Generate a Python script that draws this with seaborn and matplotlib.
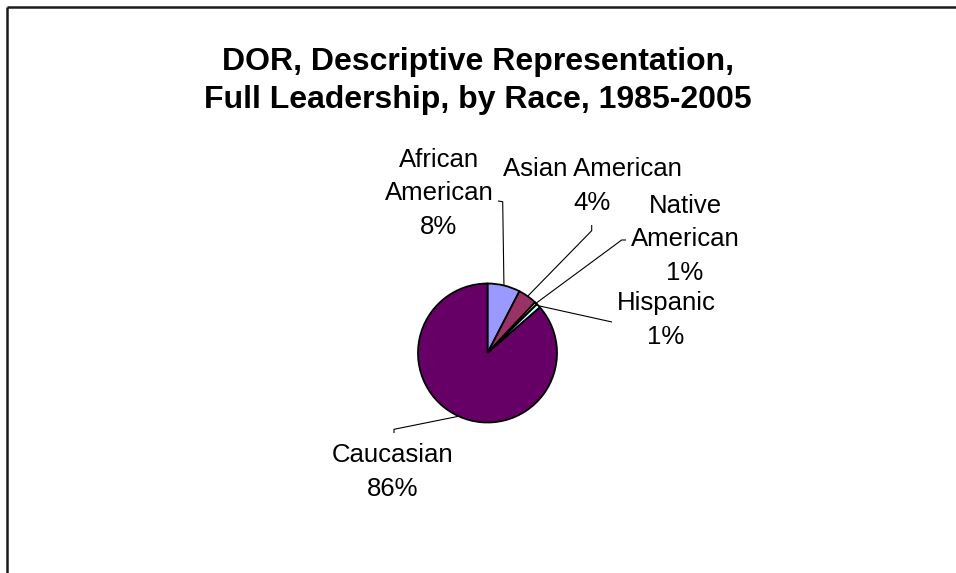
import matplotlib
matplotlib.use("Agg")
import matplotlib.pyplot as plt
import numpy as np
import seaborn as sns

# Share of full leadership by race, 1985-2005 (percent)
categories = ["African\nAmerican", "Asian American", "Native\nAmerican", "Hispanic", "Caucasian"]
shares = [7.6, 4.4, 0.6, 1.0, 86.4]
colors = ["#9999FF", "#993366", "#FFFFCC", "#CCFFFF", "#660066"]

title = "DOR, Descriptive Representation,\nFull Leadership, by Race, 1985-2005"

sns.set_theme(style="white")
plt.rcParams["font.family"] = ["Liberation Sans", "DejaVu Sans"]

W, H = 956, 573
fig = plt.figure(figsize=(W / 100, H / 100), dpi=100)
ax = fig.add_axes([0, 0, 1, 1])


def px(x, y):
    """Pixel position (y measured from the top) to data coordinates."""
    return x, H - y


cx, cy = px(487.5, 353)
radius = 69.5

wedges, _ = ax.pie(
    shares,
    colors=colors,
    startangle=90,
    counterclock=False,
    center=(cx, cy),
    radius=radius,
    wedgeprops=dict(edgecolor="black", linewidth=1.3),
)

ax.set_xlim(0, W)
ax.set_ylim(0, H)
ax.set_aspect("auto")
ax.axis("off")

# Leader-line bends and the centre of each label's first line, in pixels from the top-left
leader_paths = [
    [(502.7, 201.7), (498, 201)],
    [(591.7, 230.7), (591.7, 225)],
    [(621.7, 240), (626, 240)],
    [(612, 322)],
    [(394, 429.3), (394, 433)],
]
label_pos = [(439, 160), (592, 169), (685, 206), (666, 303), (393, 455)]
line_step = 33.5

for w, name, val, path, pos in zip(wedges, categories, shares, leader_paths, label_pos):
    mid = np.deg2rad((w.theta1 + w.theta2) / 2)
    start = (cx + radius * np.cos(mid), cy + radius * np.sin(mid))
    pts = [start] + [px(*p) for p in path]
    xs, ys = zip(*pts)
    ax.plot(xs, ys, color="black", lw=0.8, solid_capstyle="butt", zorder=3)
    lines = name.split("\n") + [f"{val:.0f}%"]
    for i, line in enumerate(lines):
        lx, ly = px(pos[0], pos[1] + i * line_step)
        ax.text(lx, ly, line, ha="center", va="center", fontsize=18.5, color="black")

# Chart title
tx, ty = px(478, 81)
ax.text(tx, ty, title, ha="center", va="center", fontsize=23, fontweight="bold",
        linespacing=1.38, color="black")

# Chart area border (top and left edges)
ax.plot([7, W], [H - 7, H - 7], color="#1a1a1a", lw=1.8, solid_capstyle="butt", clip_on=False)
ax.plot([7, 7], [H - 7, 0], color="#1a1a1a", lw=1.8, solid_capstyle="butt", clip_on=False)

fig.savefig("out.png", dpi=100, facecolor="white")
